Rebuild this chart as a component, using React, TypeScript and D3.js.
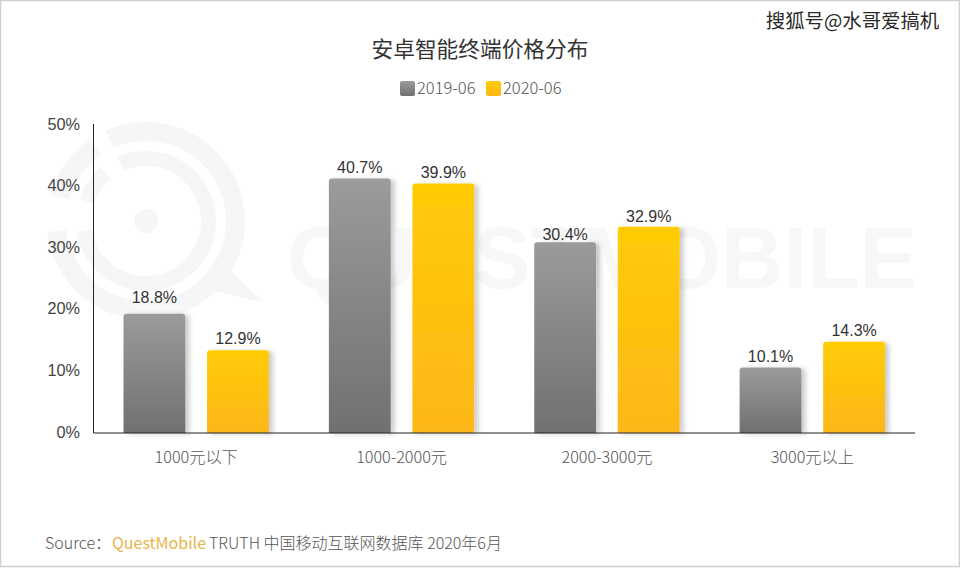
import { useEffect, useRef } from 'react';
import * as d3 from 'd3';

const categories = ['1000元以下', '1000-2000元', '2000-3000元', '3000元以上'];
const seriesNames = ['2019-06', '2020-06'];
const values2019 = [18.8, 40.7, 30.4, 10.1];
const values2020 = [12.9, 39.9, 32.9, 14.3];
const yTicks = [0, 10, 20, 30, 40, 50];

// the value labels are hand placed in the picture, so each has its own gap above the bar
const labelGaps2019 = [11, 5, 2, 6];
const labelGaps2020 = [6, 5, 5, 6];

const WIDTH = 960;
const HEIGHT = 568;
const CN_FONT = '"Noto Sans CJK SC", "Noto Sans", sans-serif';
const NUM_FONT = '"Liberation Sans", Arial, sans-serif';
const MARK_COLOR = '#f6f6f6';

export default function App() {
    const svgRef = useRef<SVGSVGElement>(null);

    useEffect(() => {
        if (!svgRef.current) return;

        const svg = d3.select(svgRef.current);
        svg.selectAll('*').remove();

        const left = 93.5;
        const right = 915;
        const base = 433;

        const x0 = d3.scaleBand<string>().domain(categories).range([left, right]);
        const x1 = d3.scaleBand<string>()
            .domain(seriesNames)
            .range([30, x0.bandwidth() - 30])
            .paddingInner(0.26);
        // bars in the picture do not line up with the tick labels, so they get their own scale
        const yBar = d3.scaleLinear().domain([0, 50]).range([430, 121]);
        const yAxis = d3.scaleLinear().domain([0, 50]).range([base - 1, 124]);

        const defs = svg.append('defs');
        const gradients = [
            ['grayBar', '#9b9b9b', '#717071'],
            ['goldBar', '#ffcc05', '#fdb71a'],
        ];
        gradients.forEach(([id, top, bottom]) => {
            const g = defs.append('linearGradient')
                .attr('id', id)
                .attr('x1', 0).attr('y1', 0)
                .attr('x2', 0).attr('y2', 1);
            g.append('stop').attr('offset', '0%').attr('stop-color', top);
            g.append('stop').attr('offset', '100%').attr('stop-color', bottom);
        });
        const shadow = defs.append('filter')
            .attr('id', 'barShadow')
            .attr('x', '-20%').attr('y', '-10%')
            .attr('width', '150%').attr('height', '120%');
        shadow.append('feDropShadow')
            .attr('dx', 4).attr('dy', 1)
            .attr('stdDeviation', 2.5)
            .attr('flood-color', '#000')
            .attr('flood-opacity', 0.2);

        // background and the screenshot's frame
        svg.append('rect').attr('width', WIDTH).attr('height', HEIGHT).attr('fill', '#fff');
        svg.append('rect')
            .attr('x', 0.5).attr('y', 0.5)
            .attr('width', WIDTH - 1).attr('height', HEIGHT - 2)
            .attr('fill', 'none')
            .attr('stroke', '#cfcfcf')
            .attr('stroke-width', 1.5);
        svg.append('line')
            .attr('x1', 954.5).attr('x2', 954.5)
            .attr('y1', 3).attr('y2', HEIGHT - 3)
            .attr('stroke', '#f4f4f4');

        // watermark
        const logo = svg.append('g')
            .attr('transform', 'translate(146,221)')
            .attr('fill', MARK_COLOR);
        const ring = d3.arc();
        const rings = [
            [80, 99, -0.42, 4.6],
            [80, 99, -1.3, -0.6],
            [55, 70, -0.42, 4.55],
            [55, 70, -1.25, -0.7],
        ];
        rings.forEach(([innerRadius, outerRadius, startAngle, endAngle]) => {
            logo.append('path').attr('d', ring({ innerRadius, outerRadius, startAngle, endAngle }) as string);
        });
        logo.append('circle').attr('r', 12);
        logo.append('path').attr('d', 'M78,44L117,81L50,66Z');
        svg.append('text')
            .attr('x', 287).attr('y', 288)
            .attr('font-family', NUM_FONT)
            .attr('font-size', 88)
            .attr('font-weight', 700)
            .attr('fill', '#f7f7f7')
            .attr('textLength', 630)
            .attr('lengthAdjust', 'spacingAndGlyphs')
            .text('QUESTMOBILE');

        // title and corner tag
        svg.append('text')
            .attr('x', 480).attr('y', 57)
            .attr('text-anchor', 'middle')
            .attr('font-family', CN_FONT)
            .attr('font-size', 21.7)
            .attr('fill', '#333')
            .text('安卓智能终端价格分布');
        svg.append('text')
            .attr('x', 852.5).attr('y', 28)
            .attr('text-anchor', 'middle')
            .attr('font-family', CN_FONT)
            .attr('font-size', 19.4)
            .attr('fill', '#2a2a2a')
            .text('搜狐号@水哥爱搞机');

        // legend
        const legendX = [400, 486];
        seriesNames.forEach((name, i) => {
            svg.append('rect')
                .attr('x', legendX[i]).attr('y', 81)
                .attr('width', 15).attr('height', 15)
                .attr('rx', 2)
                .attr('fill', `url(#${i === 0 ? 'grayBar' : 'goldBar'})`);
            svg.append('text')
                .attr('x', legendX[i] + 17).attr('y', 93.5)
                .attr('font-family', CN_FONT)
                .attr('font-weight', 300)
                .attr('font-size', 16.5)
                .attr('fill', '#555')
                .text(name);
        });

        // bars
        const series = [values2019, values2020];
        const gaps = [labelGaps2019, labelGaps2020];
        categories.forEach((cat, c) => {
            const g = svg.append('g').attr('transform', `translate(${x0(cat)},0)`);
            seriesNames.forEach((name, s) => {
                const v = series[s][c];
                const bx = x1(name)!;
                const bw = x1.bandwidth();
                const r = 3;
                const top = yBar(v);
                g.append('path')
                    .attr('d', `M${bx},${base}V${top + r}Q${bx},${top} ${bx + r},${top}H${bx + bw - r}Q${bx + bw},${top} ${bx + bw},${top + r}V${base}Z`)
                    .attr('fill', `url(#${s === 0 ? 'grayBar' : 'goldBar'})`)
                    .attr('filter', 'url(#barShadow)');
                g.append('text')
                    .attr('x', bx + bw / 2)
                    .attr('y', top - gaps[s][c])
                    .attr('text-anchor', 'middle')
                    .attr('font-family', NUM_FONT)
                    .attr('font-size', 16)
                    .attr('fill', '#333')
                    .text(`${v}%`);
            });
        });

        // axes
        svg.append('line')
            .attr('x1', left).attr('x2', left)
            .attr('y1', 124).attr('y2', base)
            .attr('stroke', '#222').attr('stroke-width', 1);
        svg.append('line')
            .attr('x1', left).attr('x2', right)
            .attr('y1', base).attr('y2', base)
            .attr('stroke', '#222').attr('stroke-width', 1);

        yTicks.forEach(t => {
            svg.append('text')
                .attr('x', 80)
                .attr('y', yAxis(t) + 5.5)
                .attr('text-anchor', 'end')
                .attr('font-family', NUM_FONT)
                .attr('font-size', 16.3)
                .attr('fill', '#444')
                .text(`${t}%`);
        });
        categories.forEach(cat => {
            svg.append('text')
                .attr('x', x0(cat)! + x0.bandwidth() / 2)
                .attr('y', 462.5)
                .attr('text-anchor', 'middle')
                .attr('font-family', CN_FONT)
                .attr('font-weight', 300)
                .attr('font-size', 16.2)
                .attr('fill', '#555')
                .text(cat);
        });

        // source line
        const source = svg.append('text')
            .attr('x', 45).attr('y', 548.5)
            .attr('font-family', CN_FONT)
            .attr('font-weight', 300)
            .attr('font-size', 16)
            .attr('fill', '#555');
        source.append('tspan').text('Source：');
        source.append('tspan').attr('x', 112).attr('fill', '#e9b44c').attr('font-weight', 400).text('QuestMobile');
        source.append('tspan').attr('x', 209).text('TRUTH 中国移动互联网数据库 2020年6月');
    }, []);

    return <svg ref={svgRef} width={WIDTH} height={HEIGHT} style={{ position: 'absolute', left: 0, top: 0 }} />;
}
